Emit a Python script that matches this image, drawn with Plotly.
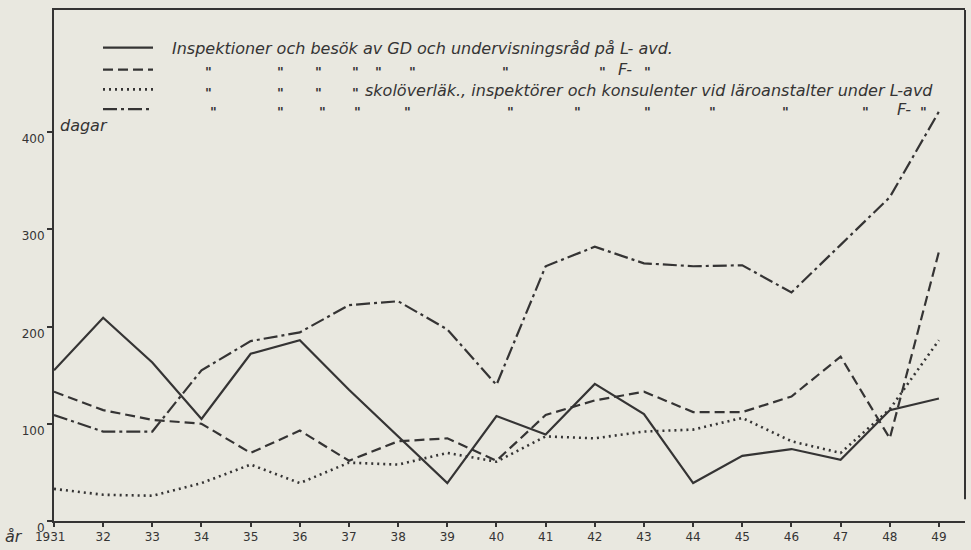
import plotly.graph_objects as go

# ---------------- data ----------------
years = list(range(1931, 1950))
year_labels = ["1931\u00a0\u00a0", "32", "33", "34", "35", "36", "37", "38", "39", "40",
               "41", "42", "43", "44", "45", "46", "47", "48", "49"]
insp_L = [155, 209, 163, 105, 172, 186, 135, 87, 39, 108, 89, 141, 110, 39, 67, 74, 63, 114, 126]
insp_F = [133, 114, 104, 100, 70, 93, 62, 82, 85, 62, 109, 124, 133, 112, 112, 128, 169, 85, 277]
skol_L = [33, 27, 26, 39, 58, 39, 60, 58, 70, 61, 87, 85, 92, 94, 106, 82, 70, 115, 186]
skol_F = [109, 92, 92, 155, 185, 194, 222, 226, 197, 140, 262, 282, 265, 262, 263, 235, 284, 333, 421]
y_ticks = [0, 100, 200, 300, 400]
y_ticklabels = ["0", "100", "200", "300", "400"]

legend_row1 = "Inspektioner och besök av GD och undervisningsråd på L- avd."
legend_row3 = "skolöverläk., inspektörer och konsulenter vid läroanstalter under L-avd"

# ---------------- style ----------------
INK = "#353434"
BG = "#e9e8e0"
W, H = 971, 550
L, R, T, B = 54, 6, 10, 25
PW, PH = W - L - R, H - T - B

def px_x(px):
    return (px - L) / PW

def px_y(py):
    return (H - B - py) / PH

series = [
    (insp_L, "solid", 2.2),
    (insp_F, "10px,5px", 2.2),
    (skol_L, "2px,4px", 2.6),
    (skol_F, "14px,4px,3px,4px", 2.2),
]

fig = go.Figure()
for vals, dash, lw in series:
    fig.add_trace(go.Scatter(x=years, y=vals, mode="lines",
                             line=dict(color=INK, width=lw, dash=dash),
                             showlegend=False, hoverinfo="skip"))

hand = dict(family="DejaVu Sans", size=16, color=INK, style="italic")
ditto_font = dict(family="DejaVu Sans", size=13, color=INK, style="italic", weight="bold")
annotations = []
shapes = []

# legend samples
rows_y = [48, 70, 90, 110]
for (vals, dash, lw), ry in zip(series, rows_y):
    shapes.append(dict(type="line", xref="paper", yref="paper",
                       x0=px_x(103), x1=px_x(153), y0=px_y(ry), y1=px_y(ry),
                       line=dict(color=INK, width=lw, dash=dash)))

def txt(s, px, py, anchor="left", font=hand):
    annotations.append(dict(text=s, xref="paper", yref="paper", x=px_x(px), y=px_y(py),
                            xanchor=anchor, yanchor="middle", showarrow=False, font=font))

def ditto(px, py):
    txt('"', px, py + 2, "center", ditto_font)

txt(legend_row1, 170, 49)
for px in [208, 280, 318, 355, 378, 412, 505, 602, 647]:
    ditto(px, 70)
txt("F-", 616, 70)
for px in [208, 280, 318, 355]:
    ditto(px, 91)
txt(legend_row3, 363, 91)
for px in [213, 280, 322, 357, 407, 510, 577, 647, 712, 785, 865, 923]:
    ditto(px, 110)
txt("F-", 895, 110)

# axis words
annotations.append(dict(text="dagar", xref="x", yref="y", x=1931, y=400, xanchor="left",
                        yanchor="middle", xshift=4, yshift=7, showarrow=False, font=hand))
annotations.append(dict(text="år", xref="paper", yref="paper", x=px_x(14), y=px_y(541),
                        xanchor="center", yanchor="middle", showarrow=False,
                        font=dict(family="DejaVu Sans", size=16, color=INK, style="italic")))

# right border of the frame (stops short of the x axis)
shapes.append(dict(type="line", xref="paper", yref="paper", x0=1, x1=1,
                   y0=px_y(503), y1=1, line=dict(color=INK, width=2)))

tickfont = dict(family="DejaVu Sans", size=12, color=INK)
fig.update_layout(
    width=W, height=H,
    margin=dict(l=L, r=R, t=T, b=B),
    paper_bgcolor=BG, plot_bgcolor=BG,
    annotations=annotations, shapes=shapes,
    xaxis=dict(range=[1931, 1949.53], tickvals=years, ticktext=year_labels,
               showgrid=False, zeroline=False, showline=True, mirror=True,
               linecolor=INK, linewidth=2, ticks="outside", ticklen=4,
               tickcolor=INK, tickwidth=1.5, tickfont=tickfont),
    yaxis=dict(range=[0, 525.5], tickvals=y_ticks, ticktext=y_ticklabels,
               showgrid=False, zeroline=False, showline=True, mirror=False,
               linecolor=INK, linewidth=2, ticks="outside", ticklen=5,
               tickcolor=INK, tickwidth=1.5, tickfont=tickfont,
               ticklabelshift=7, ticklabelstandoff=0),
)

fig.write_html("out.html",
               config={"displayModeBar": False},
               post_script="document.body.style.margin='0';"
                           "document.body.style.background='" + BG + "';"
                           "document.body.style.overflow='hidden';")
